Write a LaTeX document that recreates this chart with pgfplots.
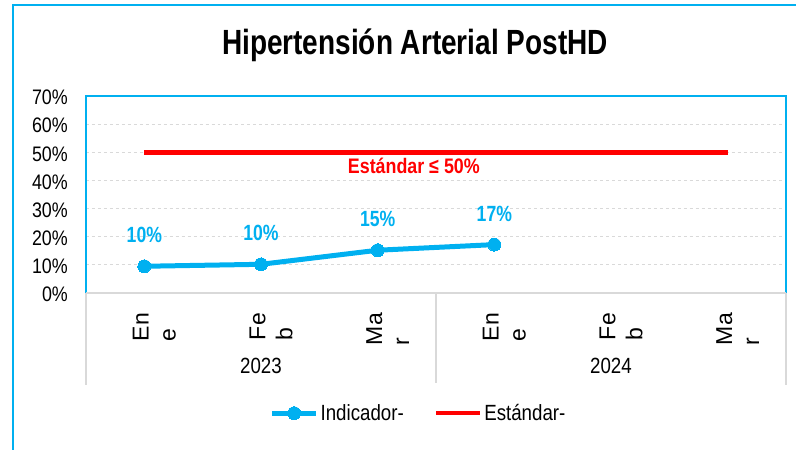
\documentclass[border=0pt]{standalone}
\usepackage{pgfplots}
\pgfplotsset{compat=1.18}
\usepackage{fontspec}
\setmainfont[FakeStretch=0.85]{Liberation Sans}
\newfontfamily\titlefont[FakeStretch=0.8]{Liberation Sans}
\newfontfamily\rotfont{Liberation Sans}
\definecolor{cy}{RGB}{0,176,240}
\definecolor{gr}{RGB}{217,217,217}
\pgfkeys{/pgf/number format/assume math mode=true}
\begin{document}
\begin{tikzpicture}
\useasboundingbox (0bp,0bp) rectangle (796bp,-450bp);
\draw[cy, line width=1.5bp] (13bp,-470bp) -- (13bp,-5bp) -- (798bp,-5bp) -- (798bp,-470bp);
\node[font=\titlefont\bfseries\fontsize{35bp}{40bp}\selectfont] at (415bp,-45bp) {Hipertensión Arterial PostHD};
\begin{axis}[
  at={(86bp,-293bp)}, anchor=south west,
  scale only axis, width=700bp, height=197bp,
  xmin=-0.5, xmax=5.5, ymin=0, ymax=70,
  clip=false,
  axis line style={draw=none},
  major tick length=0pt,
  /pgf/number format/assume math mode=true,
  ytick={0,10,...,70},
  yticklabel={\pgfmathprintnumber{\tick}\%},
  yticklabel style={font=\fontsize{21bp}{24bp}\selectfont, anchor=east, inner sep=0pt, xshift=-18bp, yshift=-1.5bp},
  ymajorgrids,
  grid style={gr, dashed, line width=0.9bp},
  xtick={0,...,5},
  xticklabels={{En\\e},{Fe\\b},{Ma\\r},{En\\e},{Fe\\b},{Ma\\r}},
  xticklabel style={xshift=10bp, yshift=-20bp, rotate=90, anchor=east, align=left, inner sep=0pt,
     font=\rotfont\fontsize{23bp}{27bp}\selectfont},
  legend style={at={(0.475,-0.61)}, anchor=center, draw=none, fill=none,
     legend columns=2, font=\fontsize{22bp}{25bp}\selectfont,
     /tikz/every even column/.append style={column sep=28bp},
     inner sep=0pt},
  legend image code/.code={\draw[mark repeat=2,mark phase=2,#1] plot coordinates {(0bp,0bp)(22bp,0bp)(44bp,0bp)};},
]
\addplot[cy, line width=5bp, mark=*, mark size=6.5bp, mark options={fill=cy, draw=cy, line width=0pt},
  nodes near coords={\pgfmathprintnumber[fixed,precision=0]{\pgfplotspointmeta}\%},
  nodes near coords style={text=cy, anchor=center, yshift=31bp, font=\titlefont\bfseries\fontsize{22bp}{25bp}\selectfont}]
  coordinates {(0,9.5) (1,10.2) (2,15.2) (3,17.2)};
\addlegendentry{Indicador-}
\addplot[red, line width=4.5bp] coordinates {(0,50) (1,50) (2,50) (3,50) (4,50) (5,50)};
\addlegendentry{Estándar-}
\node[text=red, font=\bfseries\fontsize{21bp}{24bp}\selectfont] at (axis cs:2.31,45.1) {Estándar ≤ 50\%};
\draw[cy, line width=1.3bp] (rel axis cs:0,0) -- (rel axis cs:0,1) -- (rel axis cs:1,1) -- (rel axis cs:1,0);
\draw[gr, line width=1.3bp] (rel axis cs:0,0) -- (rel axis cs:1,0);
\draw[gr, line width=1.3bp] (rel axis cs:0,0) -- ++(0bp,-92bp);
\draw[gr, line width=1.3bp] (rel axis cs:0.5,0) -- ++(0bp,-90bp);
\draw[gr, line width=1.3bp] (rel axis cs:1,0) -- ++(0bp,-92bp);
\node[font=\fontsize{22bp}{25bp}\selectfont] at ([yshift=-73bp]axis cs:1,0) {2023};
\node[font=\fontsize{22bp}{25bp}\selectfont] at ([yshift=-73bp]axis cs:4,0) {2024};
\end{axis}
\end{tikzpicture}
\end{document}
